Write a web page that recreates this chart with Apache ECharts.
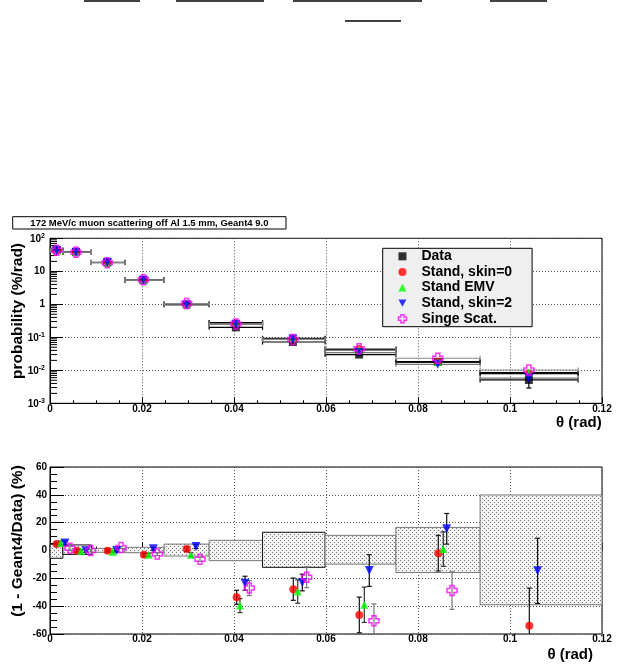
<!DOCTYPE html>
<html><head><meta charset="utf-8">
<script src="https://cdn.jsdelivr.net/npm/echarts@6.0.0/dist/echarts.min.js"></script>
<style>html,body{margin:0;padding:0;background:#fff}#c{width:638px;height:670px}</style>
</head><body><div id="c"></div>
<script>
// ---------------- data ----------------
const binLo = [0, 0.0028, 0.0090, 0.0163, 0.0248, 0.0346, 0.0462, 0.0598, 0.0752, 0.0935];
const binHi = [0.0028, 0.0090, 0.0163, 0.0248, 0.0346, 0.0462, 0.0598, 0.0752, 0.0935, 0.1148];
const boxHi = [0.0028, 0.0090, 0.0163, 0.0248, 0.0346, 0.0462, 0.0598, 0.0752, 0.0935, 0.12];
const theta = [0.00146, 0.00565, 0.01246, 0.0203, 0.0297, 0.0404, 0.0528, 0.0672, 0.0843, 0.1041];

const dataProb    = [44, 38, 18.5, 5.4, 0.99, 0.20, 0.072, 0.030, 0.018, 0.0051];
const dataProbErr = [1.2, 1.0, 0.5, 0.15, 0.03, 0.01, 0.004, 0.002, 0.0015, 0.0022];
const skin0Prob   = [42.0, 38.1, 18.5, 5.57, 0.98, 0.267, 0.092, 0.0439, 0.0183, 0.0079];
const emvProb     = [41.7, 38.2, 18.7, 5.57, 1.02, 0.279, 0.093, 0.0417, 0.0178, 0.0085];
const skin2Prob   = [41.7, 38.1, 18.5, 5.34, 0.96, 0.247, 0.0886, 0.0343, 0.0152, 0.0058];
const singleProb  = [43.3, 38.0, 18.1, 5.54, 1.05, 0.254, 0.0858, 0.0451, 0.0232, 0.0102];

const boxLow  = [-5.6, -2.8, -1.3, -1.6, -4.0, -7.3, -12.1, -9.8, -15.8, -39.0];
const boxHigh = [4.5, 4.0, 1.5, 2.3, 4.6, 7.3, 13.1, 10.9, 16.6, 39.9];

const skin0X     = [0.00146, 0.00580, 0.01254, 0.02043, 0.02972, 0.04058, 0.05289, 0.06724, 0.08441, 0.1042];
const skin0Ratio = [4.6, -0.2, -0.2, -3.1, 1.0, -33.6, -27.8, -46.3, -1.9, -54.0];
const skin0Err   = [1.5, 1.0, 0.8, 1.0, 1.5, 5.0, 8.0, 12.8, 12.8, 27.0];
const emvX       = [0.00233, 0.00674, 0.01363, 0.02146, 0.03065, 0.0413, 0.05385, 0.06833, 0.0855];
const emvRatio   = [5.3, -0.4, -1.0, -3.1, -3.1, -39.6, -29.5, -39.0, 1.0];
const emvErr     = [1.5, 1.0, 0.8, 1.0, 1.5, 5.0, 8.4, 12.7, 12.4];
const skin2X     = [0.00326, 0.00783, 0.0145, 0.02246, 0.03174, 0.04239, 0.05485, 0.06941, 0.08624, 0.106];
const skin2Ratio = [5.3, -0.2, 0.0, 1.2, 2.9, -23.5, -23.0, -14.4, 15.6, -14.6];
const skin2Err   = [1.5, 1.0, 0.8, 1.0, 1.5, 5.0, 6.0, 11.4, 11.0, 23.4];
const singleX    = [0.00435, 0.00885, 0.01543, 0.02333, 0.03261, 0.04333, 0.0558, 0.07043, 0.0874];
const singleRatio= [1.7, 0.0, 2.2, -2.6, -6.2, -27.0, -19.2, -50.4, -28.8];
const singleErr  = [1.5, 1.0, 0.8, 1.0, 1.5, 5.4, 7.5, 12.0, 13.5];

const seriesNames = ['Data', 'Stand, skin=0', 'Stand EMV', 'Stand, skin=2', 'Singe Scat.'];
const titleText = '172 MeV/c muon scattering off Al 1.5 mm, Geant4 9.0';
const topYTitle = 'probability (%/rad)';
const botYTitle = '(1 - Geant4/Data) (%)';
const xTitle = 'θ (rad)';

// ---------------- styling ----------------
const FONT = '"Liberation Sans", Arial, Helvetica, sans-serif';
const RATIO_MIN = -60, RATIO_MAX = 60;
const darkEdgeBins = new Set([0, 1, 6]);

const pc = document.createElement('canvas');
pc.width = 4; pc.height = 4;
const pctx = pc.getContext('2d');
pctx.fillStyle = '#f3f3f3'; pctx.fillRect(0, 0, 4, 4);
pctx.fillStyle = '#7a7a7a'; pctx.fillRect(0, 0, 1, 1); pctx.fillRect(2, 2, 1, 1);
const stipple = { type: 'pattern', image: pc, repeat: 'repeat' };

const downTri = 'path://M0,0L10,0L5,9Z';
const openCross = 'path://M3,0H7V3H10V7H7V10H3V7H0V3H3Z';

const logMinor = [];
for (let e = -3; e < 2; e++) for (let m = 2; m < 10; m++) logMinor.push(m * Math.pow(10, e));

function hbar(vals, color, z) {
  return {
    type: 'custom', xAxisIndex: 0, yAxisIndex: 0, silent: true, z: z,
    data: binLo.map((lo, i) => [lo, binHi[i], vals[i]]),
    encode: { x: [0, 1], y: 2 },
    renderItem(p, api) {
      const a = api.coord([api.value(0), api.value(2)]);
      const b = api.coord([api.value(1), api.value(2)]);
      const st = { stroke: color, lineWidth: 1.2 };
      return { type: 'group', children: [
        { type: 'line', shape: { x1: a[0], y1: a[1], x2: b[0], y2: b[1] }, style: st },
        { type: 'line', shape: { x1: a[0], y1: a[1] - 2.5, x2: a[0], y2: a[1] + 2.5 }, style: st },
        { type: 'line', shape: { x1: b[0], y1: b[1] - 2.5, x2: b[0], y2: b[1] + 2.5 }, style: st }
      ]};
    }
  };
}

function verr(xs, vals, errs, color, gi, lo, hi, z) {
  return {
    type: 'custom', xAxisIndex: gi, yAxisIndex: gi, silent: true, z: z,
    data: xs.map((x, i) => [x, vals[i], errs[i]]),
    encode: { x: 0, y: 1 },
    renderItem(p, api) {
      const x = api.value(0), v = api.value(1), e = api.value(2);
      const l = Math.max(v - e, lo), h = Math.min(v + e, hi);
      const a = api.coord([x, l]), b = api.coord([x, h]);
      const st = { stroke: color, lineWidth: 1.2 };
      const ch = [{ type: 'line', shape: { x1: a[0], y1: a[1], x2: b[0], y2: b[1] }, style: st }];
      if (v - e > lo) ch.push({ type: 'line', shape: { x1: a[0] - 2.5, y1: a[1], x2: a[0] + 2.5, y2: a[1] }, style: st });
      if (v + e < hi) ch.push({ type: 'line', shape: { x1: b[0] - 2.5, y1: b[1], x2: b[0] + 2.5, y2: b[1] }, style: st });
      return { type: 'group', children: ch };
    }
  };
}

function scatter(name, gi, xs, vals, symbol, size, itemStyle, z) {
  return {
    type: 'scatter', name: name, xAxisIndex: gi, yAxisIndex: gi, z: z, silent: true,
    data: xs.map((x, i) => [x, vals[i]]),
    symbol: symbol, symbolSize: size, itemStyle: itemStyle
  };
}

const tickStyle = { color: '#000', width: 1 };
const gridLine = { show: true, lineStyle: { color: '#555', type: [1, 2], width: 1 } };
const lab = { fontFamily: FONT, fontWeight: 'bold', fontSize: 10, color: '#000' };

function xAxisFor(gi, tickLen, margin) {
  return {
    type: 'value', gridIndex: gi, min: 0, max: 0.12, interval: 0.02,
    axisLine: { show: true, lineStyle: tickStyle },
    axisTick: { show: true, inside: true, length: tickLen, lineStyle: tickStyle },
    minorTick: { show: true, splitNumber: 4, length: tickLen / 2, lineStyle: tickStyle },
    axisLabel: Object.assign({ margin: margin }, lab),
    splitLine: gridLine
  };
}

const chart = echarts.init(document.getElementById('c'), null, { renderer: 'canvas' });

const crossStyle = { color: 'rgba(0,0,0,0)', borderColor: '#ff00ff', borderWidth: 1.5 };

const option = {
  backgroundColor: '#fff',
  animation: false,
  grid: [
    { left: 50, top: 238.3, right: 36, height: 165, show: true, borderColor: '#000', borderWidth: 1 },
    { left: 50, top: 467, right: 36, height: 167, show: true, borderColor: '#000', borderWidth: 1 }
  ],
  xAxis: [xAxisFor(0, 6, 1), xAxisFor(1, 8, 0)],
  yAxis: [
    {
      type: 'log', gridIndex: 0, min: 0.001, max: 100, logBase: 10,
      axisLine: { show: true, lineStyle: tickStyle },
      axisTick: { show: true, inside: true, length: 13, lineStyle: tickStyle },
      axisLabel: {
        margin: 5,
        formatter: function (v) {
          const e = Math.round(Math.log10(v));
          if (e === 0) return '{b|1}';
          if (e === 1) return '{b|10}';
          return '{b|10}{s|' + e + '}';
        },
        rich: {
          b: Object.assign({ lineHeight: 10, verticalAlign: 'bottom' }, lab),
          s: { fontFamily: FONT, fontWeight: 'bold', fontSize: 7, color: '#000', lineHeight: 12, verticalAlign: 'top' }
        }
      },
      splitLine: gridLine
    },
    {
      type: 'value', gridIndex: 1, min: RATIO_MIN, max: RATIO_MAX, interval: 20,
      axisLine: { show: true, lineStyle: tickStyle },
      axisTick: { show: true, inside: true, length: 14, lineStyle: tickStyle },
      minorTick: { show: true, splitNumber: 4, length: 7, lineStyle: tickStyle },
      axisLabel: Object.assign({ margin: 3 }, lab),
      splitLine: gridLine
    }
  ],
  legend: {
    data: [
      { name: 'Data' },
      { name: 'Stand, skin=0' },
      { name: 'Stand EMV' },
      { name: 'Stand, skin=2' },
      { name: 'Singe Scat.', itemStyle: crossStyle }
    ],
    orient: 'vertical', left: 382.7, top: 248.3,
    itemWidth: 8, itemHeight: 8, itemGap: 1.6,
    padding: [1, 20, 1, 15],
    backgroundColor: '#efefef', borderColor: '#000', borderWidth: 1, borderRadius: 0,
    selectedMode: false,
    formatter: n => '{t|' + n + '}',
    textStyle: {
      rich: { t: { fontFamily: FONT, fontWeight: 'bold', fontSize: 14, lineHeight: 14, color: '#000', padding: [0, 0, 0, 10] } }
    }
  },
  graphic: [
    { type: 'line', shape: { x1: 84, y1: 1, x2: 140, y2: 1 }, style: { stroke: '#000', lineWidth: 1.7 } },
    { type: 'line', shape: { x1: 176, y1: 1, x2: 264, y2: 1 }, style: { stroke: '#000', lineWidth: 1.7 } },
    { type: 'line', shape: { x1: 293, y1: 1, x2: 422, y2: 1 }, style: { stroke: '#000', lineWidth: 1.7 } },
    { type: 'line', shape: { x1: 490, y1: 1, x2: 547, y2: 1 }, style: { stroke: '#000', lineWidth: 1.7 } },
    { type: 'line', shape: { x1: 345, y1: 21, x2: 401, y2: 21 }, style: { stroke: '#000', lineWidth: 1.7 } },
    { type: 'rect', shape: { x: 12.7, y: 216.7, width: 273.3, height: 12.3 }, style: { fill: '#fff', stroke: '#000', lineWidth: 1 } },
    { type: 'text', x: 149.4, y: 223, style: { text: titleText, fill: '#000', font: 'bold 9.5px ' + FONT, align: 'center', verticalAlign: 'middle' } },
    { type: 'text', x: 17.5, y: 311, rotation: Math.PI / 2, style: { text: topYTitle, fill: '#000', font: 'bold 15.5px ' + FONT, align: 'center', verticalAlign: 'middle' } },
    { type: 'text', x: 17.5, y: 541, rotation: Math.PI / 2, style: { text: botYTitle, fill: '#000', font: 'bold 15.5px ' + FONT, align: 'center', verticalAlign: 'middle' } },
    { type: 'text', x: 601.7, y: 423, style: { text: xTitle, fill: '#000', font: 'bold 15px ' + FONT, align: 'right', verticalAlign: 'middle' } },
    { type: 'text', x: 593, y: 655, style: { text: xTitle, fill: '#000', font: 'bold 15px ' + FONT, align: 'right', verticalAlign: 'middle' } }
  ],
  series: [
    // log minor ticks on the top-plot y axis
    {
      type: 'custom', xAxisIndex: 0, yAxisIndex: 0, silent: true, z: 1,
      data: logMinor.map(v => [0, v]), encode: { x: 0, y: 1 },
      renderItem(p, api) {
        const a = api.coord([0, api.value(1)]);
        return { type: 'line', shape: { x1: a[0], y1: a[1], x2: a[0] + 7, y2: a[1] }, style: { stroke: '#000', lineWidth: 1 } };
      }
    },
    // top plot: horizontal bin bars
    hbar(dataProb, '#000', 2),
    hbar(skin0Prob, '#000', 2),
    hbar(emvProb, '#000', 2),
    hbar(skin2Prob, '#777', 2),
    hbar(singleProb, '#888', 2),
    verr(theta, dataProb, dataProbErr, '#000', 0, 1e-3, 100, 2),
    scatter(seriesNames[0], 0, theta, dataProb, 'rect', 8, { color: '#000' }, 3),
    scatter(seriesNames[1], 0, theta, skin0Prob, 'circle', 8, { color: '#ff0000' }, 3),
    scatter(seriesNames[2], 0, theta, emvProb, 'triangle', 8, { color: '#00ff00' }, 3),
    scatter(seriesNames[3], 0, theta, skin2Prob, downTri, 9, { color: '#0000ff' }, 3),
    scatter(seriesNames[4], 0, theta, singleProb, openCross, 10, crossStyle, 3),
    // bottom plot: data uncertainty boxes
    {
      type: 'custom', xAxisIndex: 1, yAxisIndex: 1, silent: true, z: 1,
      data: binLo.map((lo, i) => [lo, boxHi[i], boxLow[i], boxHigh[i]]),
      encode: { x: [0, 1], y: [2, 3] },
      renderItem(p, api) {
        const a = api.coord([api.value(0), api.value(3)]);
        const b = api.coord([api.value(1), api.value(2)]);
        return { type: 'rect', shape: { x: a[0], y: a[1], width: b[0] - a[0], height: b[1] - a[1] },
          style: { fill: stipple, stroke: darkEdgeBins.has(p.dataIndex) ? '#111' : '#777', lineWidth: 1 } };
      }
    },
    verr(skin0X, skin0Ratio, skin0Err, '#111', 1, RATIO_MIN, RATIO_MAX, 2),
    verr(emvX, emvRatio, emvErr, '#333', 1, RATIO_MIN, RATIO_MAX, 2),
    verr(skin2X, skin2Ratio, skin2Err, '#111', 1, RATIO_MIN, RATIO_MAX, 2),
    verr(singleX, singleRatio, singleErr, '#777', 1, RATIO_MIN, RATIO_MAX, 2),
    scatter(seriesNames[1], 1, skin0X, skin0Ratio, 'circle', 8, { color: '#ff0000' }, 3),
    scatter(seriesNames[2], 1, emvX, emvRatio, 'triangle', 8, { color: '#00ff00' }, 3),
    scatter(seriesNames[3], 1, skin2X, skin2Ratio, downTri, 9, { color: '#0000ff' }, 3),
    scatter(seriesNames[4], 1, singleX, singleRatio, openCross, 10, crossStyle, 3)
  ]
};
chart.setOption(option);
</script></body></html>
